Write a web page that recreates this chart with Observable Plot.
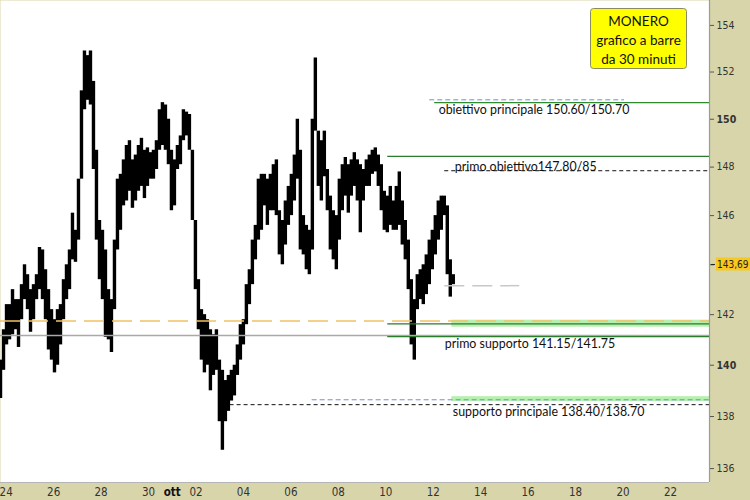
<!DOCTYPE html>
<html><head><meta charset="utf-8">
<script src="https://cdn.jsdelivr.net/npm/d3@7"></script>
<script src="https://cdn.jsdelivr.net/npm/@observablehq/plot@0.6"></script>
<style>body{margin:0;background:#d8d5aa;overflow:hidden}</style>
</head><body><div id="chart"></div>
<script>
// 3-hour aggregated high/low of the 30-minute bars
const priceHigh = [
140.2,141.4,142.4,142.4,143.0,142.6,142.6,143.2,144.0,143.6,
143.0,143.2,143.6,144.7,144.6,143.8,143.0,142.2,141.8,142.2,
142.4,143.4,144.0,144.6,146.1,145.4,147.5,151.2,152.9,152.7,
152.9,151.6,148.7,145.8,145.4,144.6,143.0,142.6,145.0,147.5,
147.7,148.3,148.9,149.1,148.3,148.5,148.9,149.2,148.7,148.8,
148.6,148.7,149.1,150.4,150.7,150.6,150.0,148.7,148.3,148.9,
149.3,150.4,150.3,150.2,148.7,145.8,143.4,142.2,142.0,141.8,
141.4,141.2,141.4,140.2,139.8,139.4,139.6,139.8,140.0,140.8,
141.6,141.8,143.2,143.8,145.0,145.6,147.5,147.7,147.7,147.5,
147.7,148.1,148.3,146.2,145.8,146.6,147.2,147.7,148.5,150.0,
148.7,146.0,145.6,145.4,150.0,152.6,149.5,149.1,149.5,147.9,
146.8,146.2,146.0,147.5,148.1,148.4,148.1,148.3,148.6,148.3,
148.1,147.9,148.3,148.5,148.7,148.8,148.5,148.1,147.0,146.8,
147.2,146.6,147.2,147.8,146.6,145.8,145.0,143.4,142.6,143.6,
143.8,144.0,144.4,145.0,145.4,146.0,146.6,146.8,146.8,146.4,
144.2,143.6];
const priceLow = [
138.7,139.8,140.8,141.0,141.2,141.4,140.7,141.8,142.6,142.2,
141.3,141.8,142.6,143.0,142.6,141.8,140.6,140.2,139.7,140.0,
140.8,141.8,142.6,143.0,144.2,144.1,145.0,147.5,150.4,150.8,
150.6,147.9,145.0,143.4,142.6,141.1,141.0,140.5,142.2,144.6,
145.4,146.4,146.6,147.0,146.3,146.6,147.0,147.2,146.7,147.2,
147.5,147.5,147.9,148.7,148.9,148.7,148.1,146.2,146.4,147.9,
148.1,149.1,149.3,148.7,145.8,143.0,141.4,140.2,139.7,140.0,
139.0,139.6,139.8,137.8,136.7,137.8,138.2,138.6,138.8,139.6,
140.2,140.8,141.6,142.4,143.2,144.2,145.0,145.4,146.4,145.6,
146.2,146.2,146.0,144.4,144.0,144.8,145.6,146.0,146.6,147.5,
144.6,144.4,143.8,143.6,144.6,149.5,147.2,146.6,147.6,146.2,
144.6,144.2,143.8,145.0,146.2,146.8,146.1,146.8,147.2,146.6,
145.3,146.6,147.2,147.2,147.7,147.8,147.2,146.2,145.4,145.3,
145.6,145.4,145.4,145.6,144.8,144.2,143.0,140.8,140.2,142.2,
142.6,142.4,142.8,143.2,143.8,144.4,145.0,145.4,146.0,143.6,
142.7,143.2];
const barStart = Date.UTC(2022, 8, 23, 18, 15);
const barStepMinutes = 182;
const lastPrice = 143.69;
const lastPriceLabel = "143,69";

const yTicks = [136, 138, 142, 144, 146, 148, 152, 154];
const yTicksBold = [140, 150];
const xTickDates = ["2022-09-24","2022-09-26","2022-09-28","2022-09-30","2022-10-02","2022-10-04","2022-10-06","2022-10-08","2022-10-10","2022-10-12","2022-10-14","2022-10-16","2022-10-18","2022-10-20","2022-10-22"];
const xTickLabels = ["24","26","28","30","02","04","06","08","10","12","14","16","18","20","22"];
const monthTickDates = ["2022-10-01"];
const monthTickLabels = ["ott"];

// levels
const targetMain = 150.70, targetMainBlue = 150.82;
const targetFirst = 148.45, targetFirstDash = 147.85;
const supportFirstHi = 141.75, supportFirstGreenHi = 141.63, supportFirstGreenLo = 141.13, supportFirstGrey = 141.17;
const supportMainBlue = 138.65, supportMainDash = 138.46;
const lastGrey = 143.16;
const bandFirst = [141.50, 141.78];
const bandMain = [138.58, 138.77];

const annTexts = ["obiettivo principale 150.60/150.70", "primo obiettivo147.80/85", "primo supporto 141.15/141.75", "supporto principale 138.40/138.70"];
const annPrices = [150.37, 148.0, 140.85, 138.18];
const annTimes = ["2022-10-12T05:30Z", "2022-10-12T21:50Z", "2022-10-12T11:40Z", "2022-10-12T19:50Z"];
const boxLines = ["MONERO", "grafico a barre", "da 30 minuti"];

const yMin = 135.47, yMax = 155.08;
const xStart = new Date("2022-09-23T18:14Z"), xEnd = new Date("2022-10-23T15:30Z");
const D = s => new Date(s);
const axisFont = "'DejaVu Sans Condensed', 'Liberation Sans', sans-serif";

const bars = priceHigh.map((h, i) => ({t: new Date(barStart + i * barStepMinutes * 60000), high: h, low: priceLow[i]}));
const xLabelMap = new Map(xTickDates.map((d, i) => [+D(d + "T00:00Z"), xTickLabels[i]]));
const mLabelMap = new Map(monthTickDates.map((d, i) => [+D(d + "T00:00Z"), monthTickLabels[i]]));
const anns = annTexts.map((t, i) => ({text: t, y: annPrices[i], x: D(annTimes[i])}));

const chart = Plot.plot({
  width: 750, height: 500,
  marginLeft: 0, marginRight: 41, marginTop: 0, marginBottom: 18,
  style: {background: "#d8d5aa", color: "#333", fontFamily: "DejaVu Sans"},
  x: {type: "utc", domain: [xStart, xEnd], axis: null},
  y: {type: "log", domain: [yMin, yMax], axis: null},
  marks: [
    Plot.frame({fill: "white"}),
    Plot.rect([bandFirst, bandMain], {x1: D("2022-10-12T18:50Z"), x2: xEnd, y1: d => d[0], y2: d => d[1], fill: "#b6f0ae"}),
    Plot.ruleX(bars, {x: "t", y1: "low", y2: "high", stroke: "black", strokeWidth: 3.4}),
    Plot.ruleY([supportFirstHi], {stroke: "#f0c266", strokeWidth: 1.5, strokeDasharray: "20,8"}),
    Plot.ruleY([supportFirstGrey], {stroke: "#a9a9a9", strokeWidth: 1.5}),
    Plot.ruleY([targetMain], {x1: D("2022-10-12T01:30Z"), x2: xEnd, stroke: "#2e8b2e", strokeWidth: 1.2}),
    Plot.ruleY([targetFirst, supportFirstGreenHi, supportFirstGreenLo], {x1: D("2022-10-10T02:00Z"), x2: xEnd, stroke: "#2a7d2a", strokeWidth: 1.2}),
    Plot.ruleY([targetMainBlue], {x1: D("2022-10-11T20:30Z"), x2: D("2022-10-20T01:30Z"), stroke: "#7090d0", strokeWidth: 1, strokeDasharray: "5,3"}),
    Plot.ruleY([supportMainBlue], {x1: D("2022-10-06T21:30Z"), x2: xEnd, stroke: "#7090d0", strokeWidth: 1, strokeDasharray: "5,3"}),
    Plot.ruleY([targetFirstDash], {x1: D("2022-10-12T11:40Z"), x2: xEnd, stroke: "#111", strokeWidth: 1, strokeDasharray: "4,3"}),
    Plot.ruleY([supportMainDash], {x1: D("2022-10-03T10:30Z"), x2: xEnd, stroke: "#111", strokeWidth: 1, strokeDasharray: "4,3"}),
    Plot.ruleY([lastGrey], {x1: D("2022-10-12T11:40Z"), x2: D("2022-10-15T15:30Z"), stroke: "#c8c8c8", strokeWidth: 1.5, strokeDasharray: "20,8"}),
    Plot.text(anns, {x: "x", y: "y", text: "text", textAnchor: "start", fontSize: 12.4, fill: "#111", fontFamily: "Lato"}),
    // border of the plot area (right and bottom)
    Plot.ruleX([xEnd], {stroke: "#9a9a9a", strokeWidth: 1.2}),
    Plot.ruleY([yMin], {stroke: "#b5b5b5", strokeWidth: 1.2}),
    Plot.axisY(yTicks, {anchor: "right", tickSize: 4, tickPadding: 3, fontSize: 10.5, fontFamily: axisFont, stroke: "#555"}),
    Plot.axisY(yTicksBold, {anchor: "right", tickSize: 4, tickPadding: 3, fontSize: 10.5, fontFamily: axisFont, fontWeight: "bold", stroke: "#555"}),
    Plot.axisX(xTickDates.map(d => D(d + "T00:00Z")), {anchor: "bottom", tickSize: 0, tickPadding: 5, fontSize: 11.5, fontFamily: axisFont, tickFormat: d => xLabelMap.get(+d)}),
    Plot.axisX(monthTickDates.map(d => D(d + "T00:00Z")), {anchor: "bottom", tickSize: 0, tickPadding: 5, fontSize: 11.5, fontFamily: axisFont, fontWeight: "bold", fill: "#111", tickFormat: d => mLabelMap.get(+d)}),
    // last price label on the right axis
    Plot.ruleY([lastPrice], {x1: xEnd, x2: xEnd, insetLeft: 2, insetRight: -6, dy: -8, stroke: "#222"}),
    Plot.rect([lastPrice], {x1: xEnd, x2: xEnd, y1: d => d, y2: d => d, insetLeft: 7, insetRight: -41, insetTop: -6.5, insetBottom: -6.5, dy: -8, fill: "#f7c81e"}),
    Plot.text([lastPrice], {x: xEnd, y: d => d, text: () => lastPriceLabel, dx: 7.5, dy: -8, textAnchor: "start", fontSize: 10, fontFamily: axisFont, fill: "#222"}),
    // title box
    () => {
      const g = d3.create("svg:g");
      g.append("rect").attr("x", 590.5).attr("y", 8.5).attr("width", 96).attr("height", 60).attr("rx", 3).attr("fill", "#ffff00").attr("stroke", "#8b8b60");
      boxLines.forEach((s, i) => g.append("text").attr("x", 638.5).attr("y", 21 + i * 19).attr("dy", "0.35em").attr("text-anchor", "middle").attr("font-family", "Lato").attr("font-size", 13.5).attr("fill", "#111").text(s));
      return g.node();
    }
  ]
});
document.getElementById("chart").appendChild(chart);
</script>
</body></html>
